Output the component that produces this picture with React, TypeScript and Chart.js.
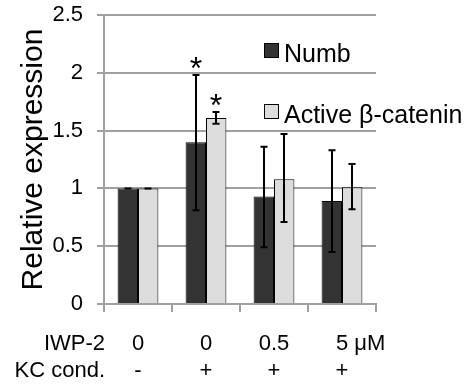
import React, { useEffect, useRef } from "react";
import { Chart, registerables } from "chart.js";
Chart.register(...registerables);

const iwpLabels = ["0", "0", "0.5", "5 μM"];
const kcLabels = ["-", "+", "+", "+"];
const numbValues = [1.0, 1.4, 0.93, 0.89];
const betaValues = [1.0, 1.61, 1.08, 1.01];
const numbErrLow = [1.0, 0.81, 0.49, 0.45];
const numbErrHigh = [1.0, 1.98, 1.36, 1.33];
const betaErrLow = [1.0, 1.56, 0.71, 0.82];
const betaErrHigh = [1.0, 1.66, 1.47, 1.21];
const numbSig = ["", "*", "", ""];
const betaSig = ["", "*", "", ""];
const seriesNames = ["Numb", "Active β-catenin"];
const rowTitles = ["IWP-2", "KC cond."];
const yMin = 0;
const yMax = 2.5;
const yStep = 0.5;

const FONT = "'Liberation Sans', Arial, sans-serif";
const DARK = "#333333";
const LIGHT = "#dcdcdc";
const GRID = "#a0a0a0";

const extrasPlugin = {
  id: "extras",
  afterDatasetsDraw(chart: any) {
    const ctx = chart.ctx;
    const y = chart.scales.y;
    const errs = [
      [numbErrLow, numbErrHigh, numbSig],
      [betaErrLow, betaErrHigh, betaSig],
    ];
    ctx.save();
    errs.forEach((e: any, di: number) => {
      const meta = chart.getDatasetMeta(di);
      meta.data.forEach((bar: any, i: number) => {
        const x = Math.round(bar.x);
        const yl = y.getPixelForValue(e[0][i]);
        const yh = y.getPixelForValue(e[1][i]);
        ctx.strokeStyle = "#000";
        ctx.lineWidth = 2;
        ctx.beginPath();
        ctx.moveTo(x, yl);
        ctx.lineTo(x, yh);
        ctx.moveTo(x - 3.5, yl);
        ctx.lineTo(x + 3.5, yl);
        ctx.moveTo(x - 3.5, yh);
        ctx.lineTo(x + 3.5, yh);
        ctx.stroke();
        if (e[2][i]) {
          ctx.fillStyle = "#000";
          ctx.font = `32px ${FONT}`;
          ctx.textAlign = "center";
          ctx.textBaseline = "alphabetic";
          ctx.fillText(e[2][i], x, yh + 4);
        }
      });
    });
    ctx.restore();
  },
  afterDraw(chart: any) {
    const ctx = chart.ctx;
    const xs = chart.scales.x;
    const area = chart.chartArea;
    ctx.save();
    ctx.fillStyle = "#000";
    ctx.font = `22px ${FONT}`;
    ctx.textBaseline = "middle";
    const row1 = area.bottom + 40;
    const row2 = area.bottom + 67;
    ctx.textAlign = "right";
    ctx.fillText(rowTitles[0], area.left + 1, row1);
    ctx.fillText(rowTitles[1], area.left + 1, row2);
    iwpLabels.forEach((lab, i) => {
      const cx = xs.getPixelForValue(i);
      const first = lab.split(" ")[0];
      const w = ctx.measureText(first).width;
      ctx.textAlign = "left";
      ctx.fillText(lab, cx - w / 2, row1);
      ctx.textAlign = "center";
      ctx.fillText(kcLabels[i], cx, row2);
    });
    // legend
    const lx = area.left + 160;
    const items = [
      { name: seriesNames[0], color: DARK, top: area.top + 28 },
      { name: seriesNames[1], color: LIGHT, top: area.top + 89 },
    ];
    ctx.font = `25px ${FONT}`;
    ctx.textAlign = "left";
    ctx.textBaseline = "alphabetic";
    items.forEach((it) => {
      ctx.fillStyle = it.color;
      ctx.fillRect(lx, it.top, 14, 14);
      ctx.strokeStyle = "#000";
      ctx.lineWidth = 1;
      ctx.strokeRect(lx + 0.5, it.top + 0.5, 14, 14);
      ctx.fillStyle = "#000";
      ctx.fillText(it.name, lx + 20, it.top + 19);
    });
    ctx.restore();
  },
};

export default function App() {
  const ref = useRef<HTMLCanvasElement>(null);
  useEffect(() => {
    if (!ref.current) return;
    const chart = new Chart(ref.current, {
      type: "bar",
      data: {
        labels: iwpLabels,
        datasets: [
          {
            label: seriesNames[0],
            data: numbValues,
            backgroundColor: DARK,
            borderColor: "#000",
            borderWidth: 1,
            categoryPercentage: 0.6,
            barPercentage: 1.0,
          },
          {
            label: seriesNames[1],
            data: betaValues,
            backgroundColor: LIGHT,
            borderColor: "#000",
            borderWidth: 1,
            categoryPercentage: 0.6,
            barPercentage: 1.0,
          },
        ],
      },
      options: {
        animation: false,
        responsive: false,
        maintainAspectRatio: false,
        layout: { padding: { left: 12, top: 15, right: 93, bottom: 0 } },
        plugins: { legend: { display: false }, tooltip: { enabled: false } },
        scales: {
          x: {
            grid: {
              display: true,
              offset: true,
              drawOnChartArea: false,
              drawTicks: true,
              tickLength: 8,
              color: GRID,
              lineWidth: 2,
            },
            border: { display: true, color: GRID, width: 2 },
            ticks: { display: false },
            afterFit: (s: any) => {
              s.height = 81;
              s.paddingLeft = 0;
              s.paddingRight = 0;
            },
          },
          y: {
            min: yMin,
            max: yMax,
            ticks: {
              stepSize: yStep,
              color: "#000",
              font: { family: FONT, size: 22 },
              padding: 14,
              callback: (v: any) => String(Number(v)),
            },
            grid: { color: GRID, tickLength: 7, lineWidth: 2 },
            border: { display: true, color: GRID, width: 2 },
            title: {
              display: true,
              text: "Relative expression",
              color: "#000",
              font: { family: FONT, size: 30 },
            },
            afterFit: (s: any) => {
              s.width = 92;
              s.paddingTop = 0;
              s.paddingBottom = 0;
            },
          },
        },
      },
      plugins: [extrasPlugin],
    });
    return () => chart.destroy();
  }, []);
  return (
    <div style={{ position: "fixed", left: 0, top: 0, width: 469, height: 385, background: "#fff" }}>
      <canvas ref={ref} width={469} height={385} style={{ width: 469, height: 385 }} />
    </div>
  );
}
